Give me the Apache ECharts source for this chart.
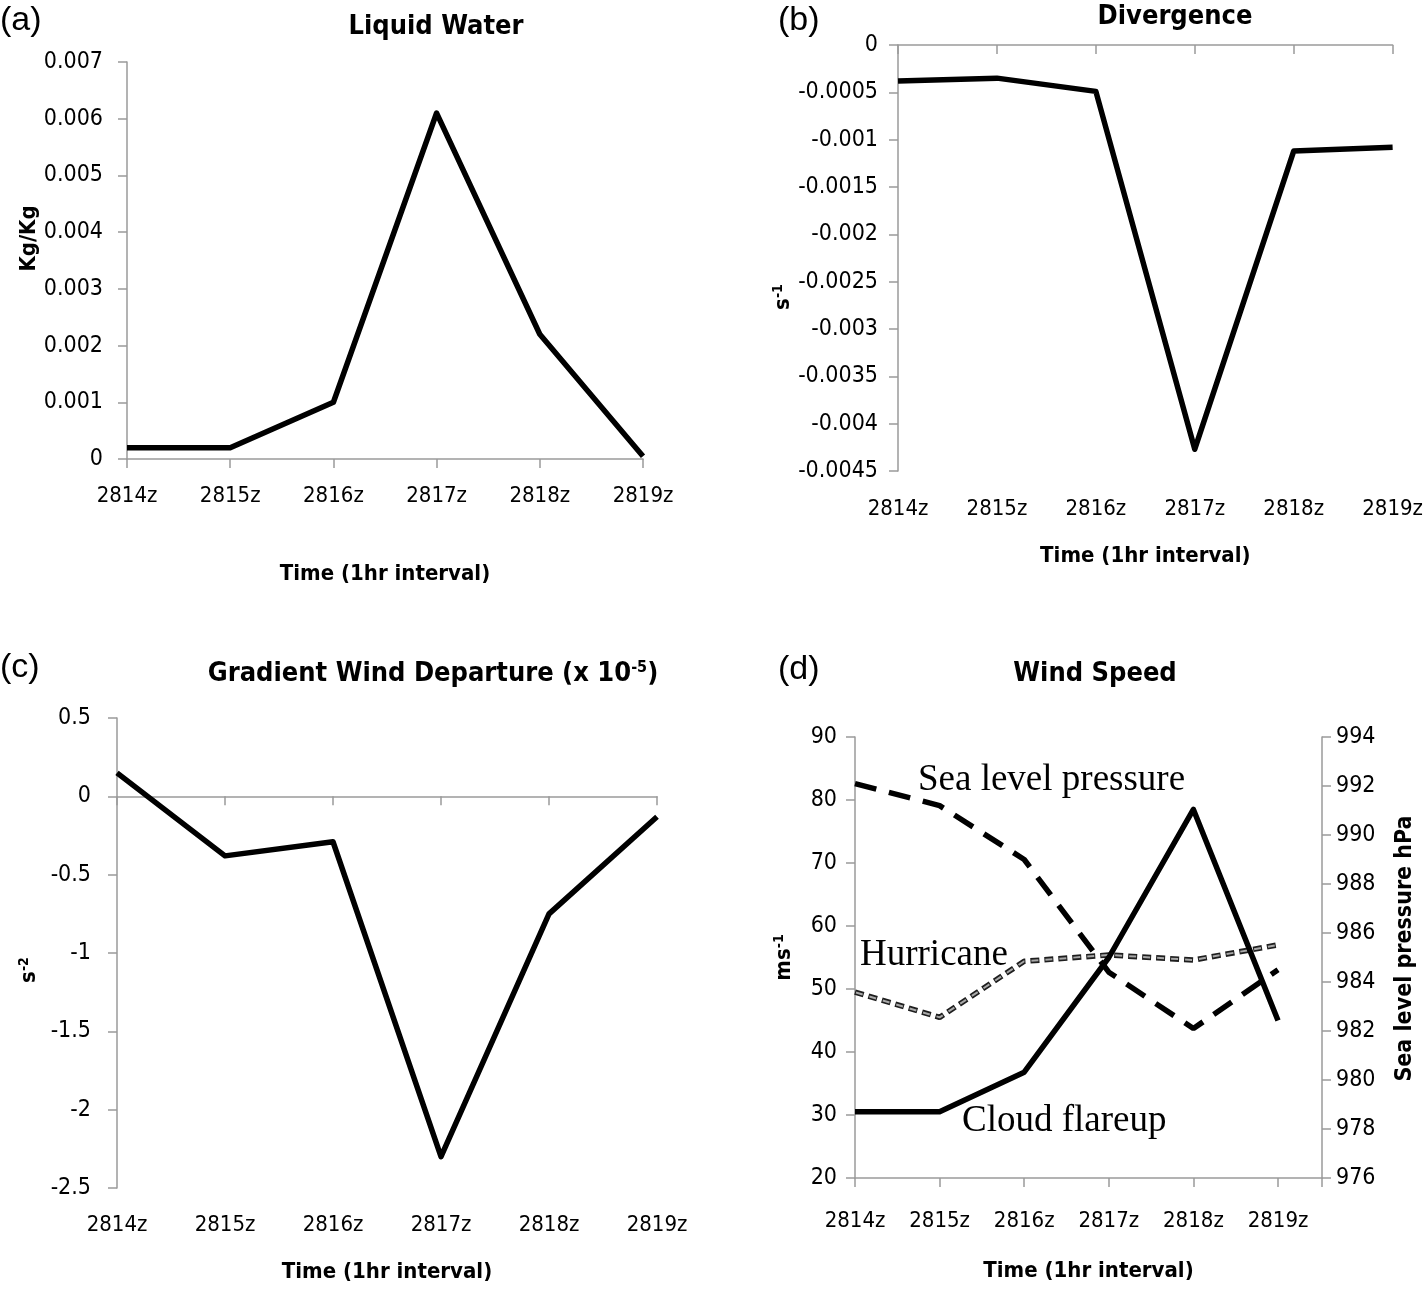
<!DOCTYPE html>
<html>
<head>
    <meta charset="utf-8">
    <title>Hurricane diagnostics</title>
    <script src="https://cdnjs.cloudflare.com/ajax/libs/echarts/6.0.0/echarts.min.js"></script>
    <style>
        html, body { margin: 0; padding: 0; background: #fff; }
        #main { width: 1426px; height: 1293px; }
    </style>
</head>
<body>
    <div id="main"></div>
    <script>
        // data
        var hours = ['2814z', '2815z', '2816z', '2817z', '2818z', '2819z'];
        var liquidWater = [0.0002, 0.0002, 0.001, 0.0061, 0.0022, 0.00005];
        var divergence = [-0.00038, -0.00035, -0.00049, -0.00427, -0.00112, -0.00108];
        var gradWindDep = [0.15, -0.38, -0.29, -2.3, -0.75, -0.13];
        var cloudFlareup = [30.5, 30.5, 36.8, 55, 78.5, 45];
        var hurricane = [49.5, 45.5, 54.4, 55.4, 54.6, 57];
        var seaLevelPressure = [992.1, 991.2, 989, 984.4, 982.1, 984.5];

        var NARROW = "'DejaVu Sans Condensed', 'Liberation Sans Narrow', sans-serif";
        var AXIS_GRAY = '#9a9a9a';

        var chart = echarts.init(document.getElementById('main'), null, { renderer: 'canvas' });

        function catAxis(grid, labelMargin, nameGap) {
            return {
                type: 'category', gridIndex: grid, data: hours, boundaryGap: false,
                axisLine: { lineStyle: { color: AXIS_GRAY, width: 1.5 } },
                axisTick: { show: true, length: 9, alignWithLabel: true, lineStyle: { color: AXIS_GRAY, width: 1.5 } },
                axisLabel: { color: '#000', fontFamily: NARROW, fontSize: 22, margin: labelMargin, interval: 0 },
                name: 'Time (1hr interval)', nameLocation: 'middle', nameGap: nameGap,
                nameTextStyle: { color: '#000', fontFamily: NARROW, fontSize: 22, fontWeight: 'bold' },
                splitLine: { show: false }
            };
        }

        // pad shifts the rotated name along the axis (left pad moves it up)
        function valAxis(grid, min, max, interval, labelMargin, name, nameGap, pad, extra) {
            var ax = {
                type: 'value', gridIndex: grid, min: min, max: max, interval: interval,
                axisLine: { show: true, lineStyle: { color: AXIS_GRAY, width: 1.5 } },
                axisTick: { show: true, length: 9, lineStyle: { color: AXIS_GRAY, width: 1.5 } },
                axisLabel: { color: '#000', fontFamily: NARROW, fontSize: 23, margin: labelMargin },
                splitLine: { show: false },
                name: name, nameLocation: 'middle', nameGap: nameGap, nameRotate: 90,
                nameTextStyle: {
                    color: '#000', fontFamily: NARROW, fontSize: 22, fontWeight: 'bold',
                    padding: pad,
                    rich: {
                        b: { fontFamily: NARROW, fontSize: 22, fontWeight: 'bold', color: '#000' },
                        sup: { fontFamily: NARROW, fontSize: 14, fontWeight: 'bold', color: '#000', verticalAlign: 'top', padding: [0, 0, 10, 0] }
                    }
                }
            };
            for (var k in extra) ax[k] = extra[k];
            return ax;
        }

        function solid(x, y, data, extra) {
            var s = {
                type: 'line', xAxisIndex: x, yAxisIndex: y, data: data,
                showSymbol: false, symbol: 'none', silent: true,
                lineStyle: { color: '#000', width: 5.5, join: 'round' }
            };
            for (var k in extra) s[k] = extra[k];
            return s;
        }

        var dPoints = function (arr) { return arr.map(function (v, i) { return [i, v]; }); };

        var titleFont = 'bold 27px ' + NARROW;
        var panelFont = '34px "Liberation Sans", Arial, sans-serif';
        var annoFont = '37px "Liberation Serif", "Times New Roman", serif';

        var option = {
            animation: false,
            backgroundColor: '#fff',
            grid: [
                { left: 127, top: 62, width: 516, height: 397 },
                { left: 898, top: 45, width: 497, height: 426 },
                { left: 117, top: 718, width: 540, height: 470 },
                { left: 855, top: 737, width: 467, height: 441 }
            ],
            xAxis: [
                catAxis(0, 26, 104),
                catAxis(1, 27, 74),
                catAxis(2, 26, 73),
                {
                    type: 'value', gridIndex: 3, min: 0, max: 5.52, interval: 1,
                    axisLine: { lineStyle: { color: AXIS_GRAY, width: 1.5 } },
                    axisTick: { show: true, length: 9, lineStyle: { color: AXIS_GRAY, width: 1.5 } },
                    axisLabel: {
                        color: '#000', fontFamily: NARROW, fontSize: 22, margin: 32,
                        formatter: function (v) { return Number.isInteger(v) ? hours[v] : ''; }
                    },
                    splitLine: { show: false },
                    name: 'Time (1hr interval)', nameLocation: 'middle', nameGap: 82,
                    nameTextStyle: { color: '#000', fontFamily: NARROW, fontSize: 22, fontWeight: 'bold' }
                }
            ],
            yAxis: [
                valAxis(0, 0, 0.007, 0.001, 24, 'Kg/Kg', 84, [0, 0, 0, 44], {}),
                valAxis(1, -0.0045, 0, 0.0005, 20, '{b|s}{sup|-1}', 94, [0, 78, 0, 0], {}),
                valAxis(2, -2.5, 0.5, 0.5, 26, '{b|s}{sup|-2}', 76, [0, 34, 0, 0], {}),
                valAxis(3, 20, 90, 10, 18, '{b|ms}{sup|-1}', 59, 0, {}),
                valAxis(3, 976, 994, 2, 14, 'Sea level pressure hPa', 72, [0, 0, 0, 18], {
                    position: 'right',
                    nameTextStyle: { color: '#000', fontFamily: NARROW, fontSize: 23, fontWeight: 'bold', padding: [0, 0, 0, 18] }
                })
            ],
            series: [
                solid(0, 0, liquidWater),
                solid(1, 1, divergence),
                solid(2, 2, gradWindDep),
                // hurricane: double-line dash (dark outline, light core)
                solid(3, 3, dPoints(hurricane), {
                    lineStyle: { color: '#1e1e1e', width: 5.5, type: [9, 5], cap: 'butt' }
                }),
                solid(3, 3, dPoints(hurricane), {
                    lineStyle: { color: '#a8a8a8', width: 2, type: [7, 7], dashOffset: -1, cap: 'butt' }
                }),
                solid(3, 4, dPoints(seaLevelPressure), {
                    lineStyle: { color: '#000', width: 5.5, type: [22, 13] }
                }),
                solid(3, 3, dPoints(cloudFlareup))
            ],
            graphic: [
                { type: 'text', x: 0, y: 21, style: { text: '(a)', font: panelFont, fill: '#000', textVerticalAlign: 'middle' } },
                { type: 'text', x: 778, y: 21, style: { text: '(b)', font: panelFont, fill: '#000', textVerticalAlign: 'middle' } },
                { type: 'text', x: 0, y: 668, style: { text: '(c)', font: panelFont, fill: '#000', textVerticalAlign: 'middle' } },
                { type: 'text', x: 778, y: 670, style: { text: '(d)', font: panelFont, fill: '#000', textVerticalAlign: 'middle' } },
                { type: 'text', x: 436, y: 27, style: { text: 'Liquid Water', font: titleFont, fill: '#000', textAlign: 'center', textVerticalAlign: 'middle' } },
                { type: 'text', x: 1175, y: 17, style: { text: 'Divergence', font: titleFont, fill: '#000', textAlign: 'center', textVerticalAlign: 'middle' } },
                {
                    type: 'text', x: 433, y: 674,
                    style: {
                        text: '{t|Gradient Wind Departure (x 10}{s|-5}{t|)}',
                        textAlign: 'center', textVerticalAlign: 'middle',
                        rich: {
                            t: { font: titleFont, fill: '#000' },
                            s: { font: 'bold 16px ' + NARROW, fill: '#000', verticalAlign: 'top', padding: [0, 0, 12, 0] }
                        }
                    }
                },
                { type: 'text', x: 1095, y: 674, style: { text: 'Wind Speed', font: titleFont, fill: '#000', textAlign: 'center', textVerticalAlign: 'middle' } },
                { type: 'text', x: 918, y: 780, style: { text: 'Sea level pressure', font: annoFont, fill: '#000', textVerticalAlign: 'middle' } },
                { type: 'text', x: 860, y: 955, style: { text: 'Hurricane', font: annoFont, fill: '#000', textVerticalAlign: 'middle' } },
                { type: 'text', x: 962, y: 1121, style: { text: 'Cloud flareup', font: annoFont, fill: '#000', textVerticalAlign: 'middle' } }
            ]
        };

        chart.setOption(option);
    </script>
</body>
</html>
